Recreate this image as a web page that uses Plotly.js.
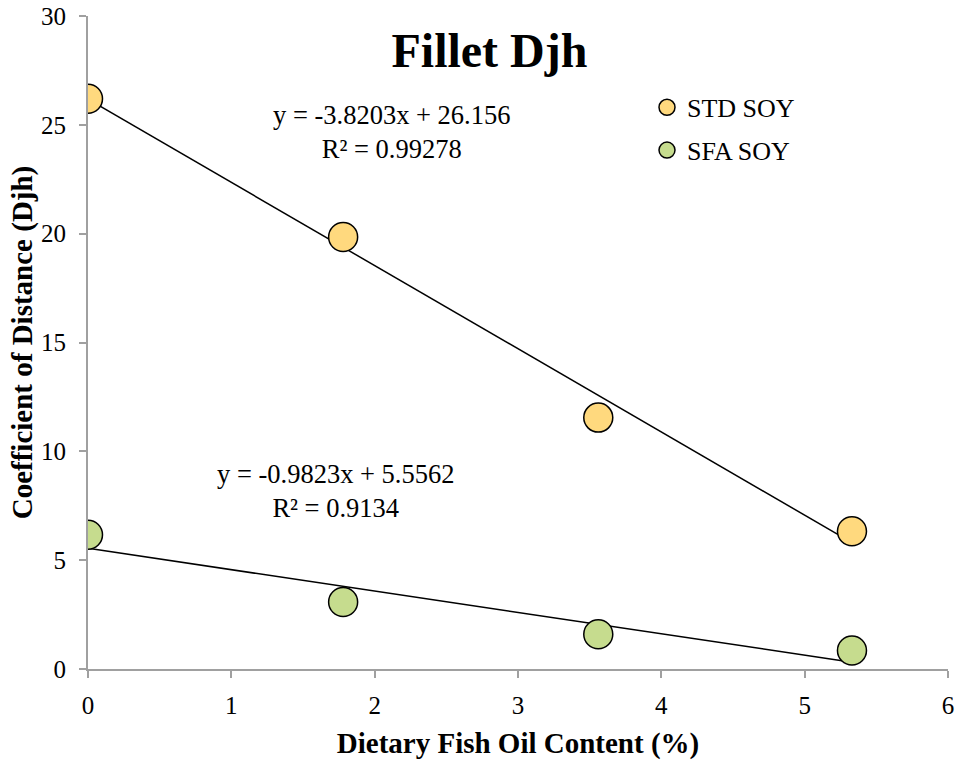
<!DOCTYPE html>
<html>
<head>
<meta charset="utf-8">
<script src="https://cdn.plot.ly/plotly-3.0.1.min.js"></script>
<style>html,body{margin:0;padding:0;background:#fff;}#chart{width:956px;height:766px;}</style>
</head>
<body>
<div id="chart"></div>
<script>
const fishOil = [0, 1.78, 3.56, 5.33];
const stdSoy = [26.2, 19.85, 11.55, 6.33];
const sfaSoy = [6.17, 3.08, 1.6, 0.85];
const stdLabel = ["y = -3.8203x + 26.156", "R² = 0.99278"];
const sfaLabel = ["y = -0.9823x + 5.5562", "R² = 0.9134"];

function fit(x, y) {
  const n = x.length;
  const mx = x.reduce((a, b) => a + b, 0) / n;
  const my = y.reduce((a, b) => a + b, 0) / n;
  let sxy = 0, sxx = 0;
  for (let i = 0; i < n; i++) { sxy += (x[i] - mx) * (y[i] - my); sxx += (x[i] - mx) ** 2; }
  const m = sxy / sxx, b = my - m * mx;
  const xs = [Math.min(...x), Math.max(...x)];
  return { x: xs, y: xs.map(v => m * v + b) };
}

const font = "Liberation Serif, Times New Roman, serif";
const stdFit = fit(fishOil, stdSoy);
const sfaFit = fit(fishOil, sfaSoy);

const traces = [
  { x: stdFit.x, y: stdFit.y, mode: "lines", line: { color: "#000", width: 1.5 }, showlegend: false, hoverinfo: "skip" },
  { x: sfaFit.x, y: sfaFit.y, mode: "lines", line: { color: "#000", width: 1.5 }, showlegend: false, hoverinfo: "skip" },
  { x: fishOil, y: stdSoy, mode: "markers", name: "STD SOY", legendgroup: "a", marker: { size: 29, color: "#ffd97e", line: { color: "#000", width: 1.5 } } },
  { x: fishOil, y: sfaSoy, mode: "markers", name: "SFA SOY", legendgroup: "b", marker: { size: 29, color: "#c6dc8e", line: { color: "#000", width: 1.5 } } }
];

const axisCommon = {
  showgrid: false, zeroline: false, showline: true, linecolor: "#a0a0a0", linewidth: 2,
  ticks: "outside", ticklen: 7, tickwidth: 2, tickcolor: "#a0a0a0",
  tickfont: { family: font, size: 25, color: "#000" }
};

const layout = {
  width: 956, height: 766,
  margin: { l: 88, r: 8, t: 16, b: 97 },
  paper_bgcolor: "#fff", plot_bgcolor: "#fff",
  title: { text: "<b>Fillet Djh</b>", font: { family: font, size: 48, color: "#000" }, x: 0.512, xanchor: "center", y: 0.935, yanchor: "middle" },
  xaxis: Object.assign({}, axisCommon, { range: [0, 6], dtick: 1, ticklabelstandoff: 6, title: { text: "<b>Dietary Fish Oil Content (%)</b>", font: { family: font, size: 29, color: "#000" }, standoff: 15 } }),
  yaxis: Object.assign({}, axisCommon, { range: [0, 30], dtick: 5, ticklabelstandoff: 8, title: { text: "<b>Coefficient of Distance (Djh)</b>", font: { family: font, size: 29, color: "#000" }, standoff: 0 } }),
  legend: { x: 0.65, y: 0.896, xanchor: "left", yanchor: "top", font: { family: font, size: 26, color: "#000" }, bgcolor: "rgba(0,0,0,0)", itemwidth: 30, traceorder: "grouped", tracegroupgap: 6 },
  annotations: [
    { text: stdLabel.join("<br>"), x: 2.12, y: 24.65, xref: "x", yref: "y", showarrow: false, font: { family: font, size: 26.5, color: "#000" }, align: "center" },
    { text: sfaLabel.join("<br>"), x: 1.73, y: 8.2, xref: "x", yref: "y", showarrow: false, font: { family: font, size: 26.5, color: "#000" }, align: "center" }
  ]
};

Plotly.newPlot("chart", traces, layout, { displayModeBar: false, staticPlot: true });
</script>
</body>
</html>
